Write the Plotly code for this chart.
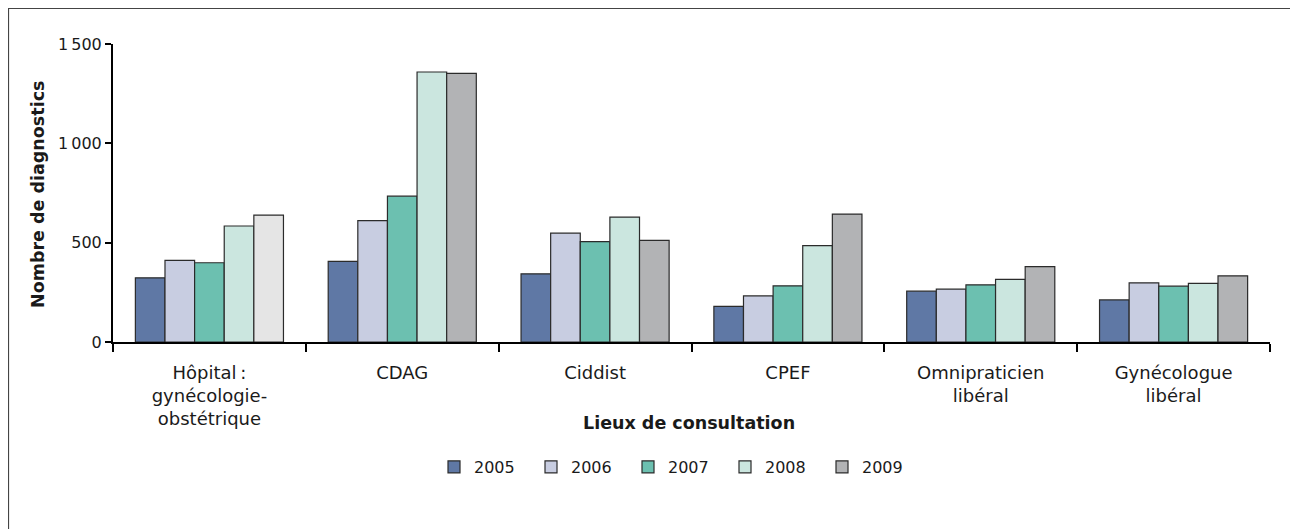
import plotly.graph_objects as go

categories = ["Hôpital\u202f:<br>gynécologie-<br>obstétrique", "CDAG", "Ciddist", "CPEF",
              "Omnipraticien<br>libéral", "Gynécologue<br>libéral"]
years = ["2005", "2006", "2007", "2008", "2009"]
v2005 = [323, 406, 343, 179, 256, 212]
v2006 = [411, 611, 548, 232, 266, 298]
v2007 = [399, 734, 505, 283, 288, 281]
v2008 = [584, 1359, 629, 485, 315, 295]
v2009 = [639, 1352, 512, 644, 379, 333]
series = [v2005, v2006, v2007, v2008, v2009]
colors = ["#5F78A5", "#C8CDE1", "#6CC0B0", "#CBE6DF", "#B2B3B5"]
bar_colors_2009 = ["#E5E5E5", "#B2B3B5", "#B2B3B5", "#B2B3B5", "#B2B3B5", "#B2B3B5"]
y_ticks = [0, 500, 1000, 1500]
y_tick_labels = ["0", "500", "1\u202f000", "1\u202f500"]

FONT = "DejaVu Sans, sans-serif"
OUTLINE = dict(color="#2b2b2b", width=1.2)

fig = go.Figure()
for i, (yr, vals) in enumerate(zip(years, series)):
    mc = bar_colors_2009 if yr == "2009" else colors[i]
    fig.add_trace(go.Bar(
        x=categories, y=vals, name=yr, offsetgroup=yr, legendgroup=yr,
        showlegend=(yr != "2009"),
        marker=dict(color=mc, line=OUTLINE),
    ))
# legend entry for 2009 with its standard gray
fig.add_trace(go.Bar(x=[categories[0]], y=[None], name="2009", offsetgroup="2009",
                     legendgroup="2009", showlegend=True,
                     marker=dict(color=colors[4], line=OUTLINE)))

# page is offset by 8 px (body margin); work in figure coordinates
W, H = 1290, 521
L, R, T, B = 105, 28, 36, 187
pw = W - L - R
ph = H - T - B


def px_x(x):
    return (x - L) / pw


def px_y(y):
    return (T + ph - y) / ph


fig.update_layout(
    width=W, height=H,
    margin=dict(l=L, r=R, t=T, b=B, autoexpand=False),
    barmode="group", bargap=0.232, bargroupgap=0,
    plot_bgcolor="white", paper_bgcolor="white",
    font=dict(family=FONT, size=18, color="#1a1a1a"),
    showlegend=True,
    legend=dict(orientation="h", x=px_x(426), xanchor="left", y=px_y(459),
                yanchor="middle", entrywidth=52, font=dict(size=16),
                itemclick=False, traceorder="normal", bgcolor="rgba(0,0,0,0)"),
    xaxis=dict(
        showline=True, linecolor="black", linewidth=2,
        ticks="outside", tickson="boundaries", ticklen=8, tickwidth=2, tickcolor="black",
        tickfont=dict(size=18), ticklabelstandoff=13, showgrid=False, zeroline=False,
    ),
    yaxis=dict(
        range=[0, 1500], showline=True, linecolor="black", linewidth=2,
        ticks="outside", ticklen=6, tickwidth=2, tickcolor="black",
        tickvals=y_ticks, ticktext=y_tick_labels, tickfont=dict(size=16),
        showgrid=False, zeroline=False,
    ),
    annotations=[
        dict(text="<b>Nombre de diagnostics</b>", xref="paper", yref="paper",
             x=px_x(30), y=px_y(187), textangle=-90, showarrow=False,
             xanchor="center", yanchor="middle", font=dict(size=17.5)),
        dict(text="<b>Lieux de consultation</b>", xref="paper", yref="paper",
             x=px_x(681), y=px_y(415), showarrow=False,
             xanchor="center", yanchor="middle", font=dict(size=17.5)),
    ],
    shapes=[
        dict(type="line", xref="paper", yref="paper", x0=px_x(0.5), x1=px_x(0.5),
             y0=px_y(0), y1=px_y(H + 5), line=dict(color="#444444", width=1.2)),
        dict(type="line", xref="paper", yref="paper", x0=px_x(0), x1=px_x(1284),
             y0=px_y(0.5), y1=px_y(0.5), line=dict(color="#444444", width=1.2)),
        dict(type="line", xref="paper", yref="paper", x0=px_x(1284), x1=px_x(1284),
             y0=px_y(0), y1=px_y(H + 5), line=dict(color="#444444", width=1.2)),
    ],
)

fig.write_html("out.html")
